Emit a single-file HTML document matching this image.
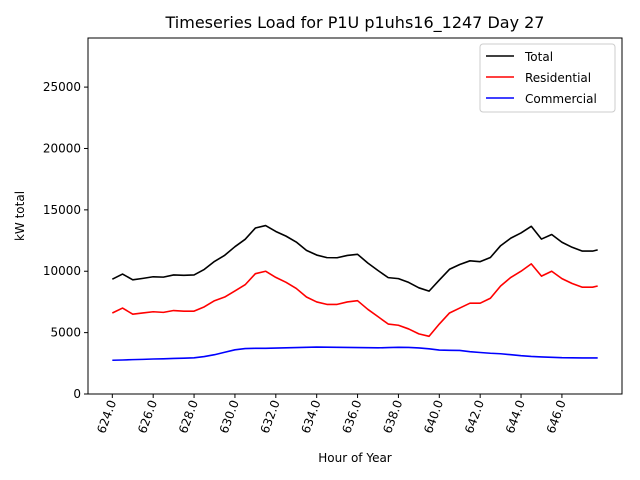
<!DOCTYPE html>
<html><head><meta charset="utf-8"><style>
body{margin:0;background:#fff;}
svg{display:block;font-family:"DejaVu Sans","Liberation Sans",sans-serif;}
</style></head><body>
<svg id="chart" width="640" height="480"></svg>
<script>
const hours=[624,624.5,625,625.5,626,626.5,627,627.5,628,628.5,629,629.5,630,630.5,631,631.5,632,632.5,633,633.5,634,634.5,635,635.5,636,636.5,637,637.5,638,638.5,639,639.5,640,640.5,641,641.5,642,642.5,643,643.5,644,644.5,645,645.5,646,646.5,647,647.5,647.75];
const totalLoad=[9350,9770,9300,9420,9550,9520,9700,9670,9700,10150,10800,11300,12000,12600,13520,13720,13240,12860,12380,11700,11320,11110,11100,11290,11380,10670,10060,9480,9400,9090,8650,8380,9280,10160,10550,10850,10780,11120,12080,12700,13120,13660,12620,12990,12360,11950,11640,11640,11740];
const residentialLoad=[6600,7000,6500,6600,6700,6650,6800,6750,6750,7100,7600,7900,8400,8900,9800,10000,9500,9100,8600,7900,7500,7300,7300,7500,7600,6900,6300,5700,5600,5300,4900,4700,5700,6600,7000,7400,7400,7800,8800,9500,10000,10600,9600,10000,9400,9000,8700,8700,8800];
const commercialLoad=[2750,2770,2800,2820,2850,2870,2900,2920,2950,3050,3200,3400,3600,3700,3720,3720,3740,3760,3780,3800,3820,3810,3800,3790,3780,3770,3760,3780,3800,3790,3750,3680,3580,3560,3550,3450,3380,3320,3280,3200,3120,3060,3020,2990,2960,2950,2940,2940,2940];
const xTicks=[624,626,628,630,632,634,636,638,640,642,644,646];
const yTicks=[0,5000,10000,15000,20000,25000];

const NS="http://www.w3.org/2000/svg";
const svg=document.getElementById('chart');
const L=88,R=622,T=38,B=394,xmin=622.81,xmax=648.94,ymin=0,ymax=29000;
const xs=v=>L+(v-xmin)/(xmax-xmin)*(R-L);
const ys=v=>B-(v-ymin)/(ymax-ymin)*(B-T);
function mk(tag,attrs,parent){const e=document.createElementNS(NS,tag);for(const k in attrs)e.setAttribute(k,attrs[k]);(parent||svg).appendChild(e);return e;}

const t=mk('text',{x:355,y:28,'font-size':16,'text-anchor':'middle',fill:'#000'});
t.textContent='Timeseries Load for P1U p1uhs16_1247  Day 27';



const frame=mk('rect',{x:L,y:T,width:R-L,height:B-T,fill:'none',stroke:'#000','stroke-width':1});



yTicks.forEach(v=>{
  const y=ys(v);
  const tk=mk('line',{x1:L-4,x2:L,y1:y,y2:y,stroke:'#000'});
  
  
  const lb=mk('text',{x:L-7,y:y+4,'font-size':12,'text-anchor':'end'});
  lb.textContent=v;
  
  
});
xTicks.forEach(v=>{
  const x=xs(v);
  const tk=mk('line',{x1:x,x2:x,y1:B,y2:B+4,stroke:'#000'});
  
  
  const lb=mk('text',{x:0,y:0,'font-size':12,'text-anchor':'end',transform:`translate(${x+4},${B+8}) rotate(-70)`});
  lb.textContent=v.toFixed(1);
  
  
});
const xl=mk('text',{x:355,y:462,'font-size':12,'text-anchor':'middle'});
xl.textContent='Hour of Year';


const yl=mk('text',{x:0,y:0,'font-size':12,'text-anchor':'middle',transform:`translate(24,${(T+B)/2}) rotate(-90)`});
yl.textContent='kW total';



function series(vals,color,name){
  const d=vals.map((v,i)=>(i?'L':'M')+xs(hours[i]).toFixed(2)+' '+ys(v).toFixed(2)).join(' ');
  const p=mk('path',{d:d,fill:'none',stroke:color,'stroke-width':1.6,'stroke-linejoin':'round'});
  
  
}
series(totalLoad,'#000','total-line');
series(residentialLoad,'#f00','residential-line');
series(commercialLoad,'#00f','commercial-line');

const lg=mk('g',{});


mk('rect',{x:480,y:44,width:135,height:68,fill:'#fff',stroke:'#ccc',rx:3},lg);
[['Total','#000'],['Residential','#f00'],['Commercial','#00f']].forEach((e,i)=>{
  const y=56+i*21;
  const ln=mk('line',{x1:486,x2:514,y1:y,y2:y,stroke:e[1],'stroke-width':1.6},lg);
  
  
  const tx=mk('text',{x:525,y:y+5,'font-size':12},lg);
  tx.textContent=e[0];
  
  
});
</script>
</body></html>
